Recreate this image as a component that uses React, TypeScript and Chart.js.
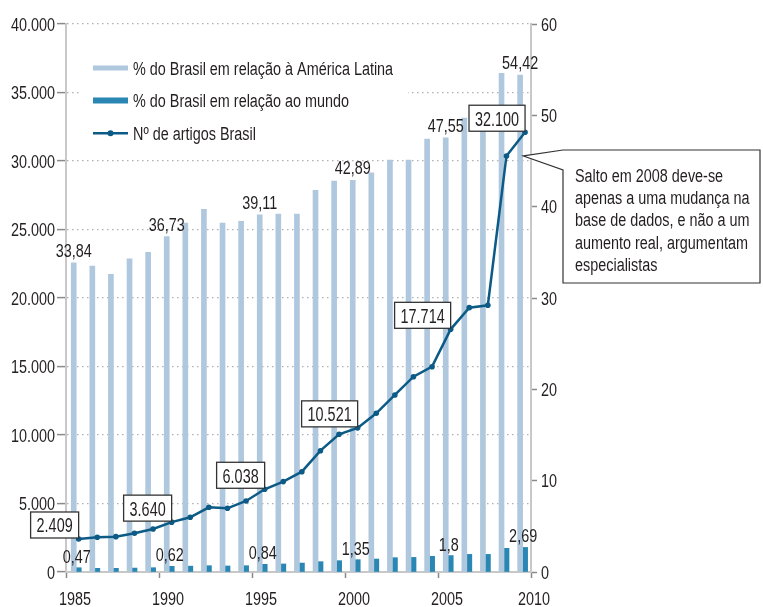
import React, { useEffect, useRef } from "react";
import { Chart, registerables } from "chart.js";

Chart.register(...registerables);

// ---- data ----
const years = [1985, 1986, 1987, 1988, 1989, 1990, 1991, 1992, 1993, 1994, 1995, 1996, 1997, 1998, 1999, 2000, 2001, 2002, 2003, 2004, 2005, 2006, 2007, 2008, 2009];
const shareLatinAmerica = [33.84, 33.5, 32.6, 34.3, 35.0, 36.73, 38.2, 39.7, 38.2, 38.4, 39.11, 39.2, 39.2, 41.8, 42.8, 42.89, 43.7, 45.1, 45.1, 47.4, 47.55, 49.7, 50.0, 54.6, 54.42];
const shareWorld = [0.47, 0.4, 0.4, 0.43, 0.47, 0.62, 0.64, 0.69, 0.66, 0.69, 0.84, 0.88, 0.98, 1.13, 1.24, 1.35, 1.42, 1.57, 1.6, 1.72, 1.8, 1.93, 1.93, 2.59, 2.69];
const articles = [2409, 2533, 2580, 2825, 3139, 3640, 3993, 4723, 4650, 5183, 6038, 6600, 7322, 8855, 10052, 10521, 11585, 12921, 14257, 14987, 17714, 19294, 19469, 30368, 32100];
const labelledBars = [0, 5, 10, 15, 20, 24];
const labelledPoints = [0, 5, 10, 15, 20, 24];
const jumpIndex = 23;
const yearTicks = [1985, 1990, 1995, 2000, 2005, 2010];
const seriesNames = ["% do Brasil em relação à América Latina", "% do Brasil em relação ao mundo", "Nº de artigos Brasil"];
const noteLines = ["Salto em 2008 deve-se", "apenas a uma mudança na", "base de dados, e não a um", "aumento real, argumentam", "especialistas"];

// ---- style ----
const LIGHT = "#afc8de";
const DARK = "#2a87b4";
const LINE = "#0c5a86";
const TEXT = "#231f20";
const FAMILY = '"Liberation Sans", Arial, sans-serif';
const SX = 0.8;
const BAR_W = 5;
const SLOT_CENTER = 0.55; // where the bar pair sits inside each year's slot
const LINE_SHIFT = 0.68; // line points sit over the dark bar

const fmtDec = (v: number) => String(v).replace(".", ",");
const fmtK = (v: number) => String(Math.round(v)).replace(/\B(?=(\d{3})+(?!\d))/g, ".");

function txt(ctx: CanvasRenderingContext2D, s: string, x: number, y: number, align: CanvasTextAlign, size = 18, sx = SX) {
  ctx.save();
  ctx.translate(x, y);
  ctx.scale(sx, 1);
  ctx.font = `${size}px ${FAMILY}`;
  ctx.textAlign = align;
  ctx.textBaseline = "alphabetic";
  ctx.fillStyle = TEXT;
  ctx.fillText(s, 0, 0);
  ctx.restore();
}
function txtWidth(ctx: CanvasRenderingContext2D, s: string, size: number, sx: number) {
  ctx.save();
  ctx.font = `${size}px ${FAMILY}`;
  const w = ctx.measureText(s).width * sx;
  ctx.restore();
  return w;
}

const overlay = {
  id: "overlay",
  beforeDatasetsDraw(chart: any) {
    const ctx = chart.ctx;
    ctx.save();
    ctx.fillStyle = "#fff";
    ctx.fillRect(80, 46, 328, 100);
    ctx.restore();
  },
  afterDatasetsDraw(chart: any) {
    const ctx = chart.ctx as CanvasRenderingContext2D;
    const m0 = chart.getDatasetMeta(0);
    const m1 = chart.getDatasetMeta(1);
    const m2 = chart.getDatasetMeta(2);
    ctx.save();
    labelledBars.forEach((i) => {
      const b = m0.data[i];
      txt(ctx, fmtDec(shareLatinAmerica[i]), b.x, b.y - 6, "center");
      const d = m1.data[i];
      txt(ctx, fmtDec(shareWorld[i]), d.x - 2, d.y - 5, "center");
    });
    // boxed values
    labelledPoints.forEach((i) => {
      const p = m2.data[i];
      const t = fmtK(articles[i]);
      const w = txtWidth(ctx, t, 20, 0.72) + 12;
      const h = 26;
      const r = p.x;
      const b = p.y - 1;
      ctx.fillStyle = "#fff";
      ctx.fillRect(r - w, b - h, w, h);
      ctx.strokeStyle = "#333";
      ctx.lineWidth = 1.3;
      ctx.strokeRect(r - w, b - h, w, h);
      txt(ctx, t, r - w / 2, b - h / 2 + 7.5, "center", 20, 0.72);
    });
    // callout
    const jp = m2.data[jumpIndex];
    const tipX = jp.x + 17;
    const tipY = jp.y;
    const bx = 563, by = 150, bw = 197, bh = 133;
    ctx.beginPath();
    ctx.moveTo(tipX, tipY);
    ctx.lineTo(bx, by);
    ctx.lineTo(bx + bw, by);
    ctx.lineTo(bx + bw, by + bh);
    ctx.lineTo(bx, by + bh);
    ctx.lineTo(bx, by + 20);
    ctx.closePath();
    ctx.fillStyle = "#fff";
    ctx.fill();
    ctx.strokeStyle = "#333";
    ctx.lineWidth = 1.2;
    ctx.stroke();
    noteLines.forEach((l, k) => txt(ctx, l, 575, 182 + k * 22.2, "left"));
    // legend
    const lx = 93, lw = 35, tx = 133;
    const ly = [68, 100.5, 133.3];
    ctx.fillStyle = LIGHT;
    ctx.fillRect(lx, ly[0] - 2.5, lw, 5);
    ctx.fillStyle = DARK;
    ctx.fillRect(lx, ly[1] - 3, lw, 6);
    ctx.strokeStyle = LINE;
    ctx.lineWidth = 2.5;
    ctx.beginPath();
    ctx.moveTo(lx, ly[2]);
    ctx.lineTo(lx + lw, ly[2]);
    ctx.stroke();
    ctx.fillStyle = LINE;
    ctx.beginPath();
    ctx.arc(lx + lw / 2, ly[2], 3, 0, Math.PI * 2);
    ctx.fill();
    seriesNames.forEach((n, k) => txt(ctx, n, tx, ly[k] + 6.5, "left"));
    ctx.restore();
  },
  afterDraw(chart: any) {
    const ctx = chart.ctx as CanvasRenderingContext2D;
    const yL = chart.scales.yL;
    const yR = chart.scales.yR;
    const x = chart.scales.x;
    yL.ticks.forEach((t: any) => txt(ctx, fmtK(t.value), 55, yL.getPixelForValue(t.value) + 6.5, "right"));
    yR.ticks.forEach((t: any) => txt(ctx, String(t.value), 541, yR.getPixelForValue(t.value) + 6.5, "left"));
    yearTicks.forEach((v) => txt(ctx, String(v), x.getPixelForValue(v) + (v === 2010 ? 3 : 9), 605, "center"));
  },
};

export default function App() {
  const ref = useRef<HTMLCanvasElement>(null);
  useEffect(() => {
    document.body.style.margin = "0";
    const canvas = ref.current!;
    const chart = new Chart(canvas, {
      type: "bar",
      data: {
        datasets: [
          {
            type: "bar",
            label: seriesNames[0],
            data: years.map((y, i) => ({ x: y + SLOT_CENTER, y: shareLatinAmerica[i] })),
            backgroundColor: LIGHT,
            xAxisID: "x",
            yAxisID: "yR",
            barThickness: BAR_W,
            grouped: true,
            order: 2,
          },
          {
            type: "bar",
            label: seriesNames[1],
            data: years.map((y, i) => ({ x: y + SLOT_CENTER, y: shareWorld[i] })),
            backgroundColor: DARK,
            xAxisID: "x",
            yAxisID: "yR",
            barThickness: BAR_W,
            grouped: true,
            order: 2,
          },
          {
            type: "line",
            label: seriesNames[2],
            data: years.map((y, i) => ({ x: y + LINE_SHIFT, y: articles[i] })),
            xAxisID: "x",
            yAxisID: "yL",
            borderColor: LINE,
            borderWidth: 2.5,
            pointRadius: 2.8,
            pointBackgroundColor: LINE,
            pointBorderWidth: 0,
            tension: 0,
            order: 1,
          } as any,
        ],
      },
      options: {
        responsive: false,
        animation: false,
        layout: { padding: { top: 24, left: 0, right: 0, bottom: 0 } },
        plugins: { legend: { display: false }, tooltip: { enabled: false } },
        scales: {
          x: {
            type: "linear",
            position: "bottom",
            offset: false,
            min: 1985,
            max: 2010,
            ticks: { stepSize: 5, display: false, autoSkip: false },
            grid: { offset: false, drawOnChartArea: false, tickLength: 6, color: "#8a8a8a", tickWidth: 1.5 },
            border: { color: "#c8c8c8", width: 2 },
            afterFit: (s: any) => { s.height = 35; },
          },
          yL: {
            type: "linear",
            position: "left",
            min: 0,
            max: 40000,
            ticks: { stepSize: 5000, display: false },
            grid: { color: "#b0b0b0", lineWidth: 1.2, tickLength: 9, tickColor: "#8a8a8a", tickWidth: 1.5 },
            border: { dash: [1.5, 3.5], color: "#c8c8c8", width: 2 },
            afterFit: (s: any) => { s.width = 66; },
          },
          yR: {
            type: "linear",
            position: "right",
            min: 0,
            max: 60,
            ticks: { stepSize: 10, display: false },
            grid: { drawOnChartArea: false, tickLength: 6, tickColor: "#8a8a8a", tickWidth: 1.5 },
            border: { color: "#c8c8c8", width: 2 },
            afterFit: (s: any) => { s.width = 763 - 531; },
          },
        },
      } as any,
      plugins: [overlay],
    });
    return () => chart.destroy();
  }, []);
  return <canvas ref={ref} width={763} height={607} style={{ display: "block" }} />;
}
